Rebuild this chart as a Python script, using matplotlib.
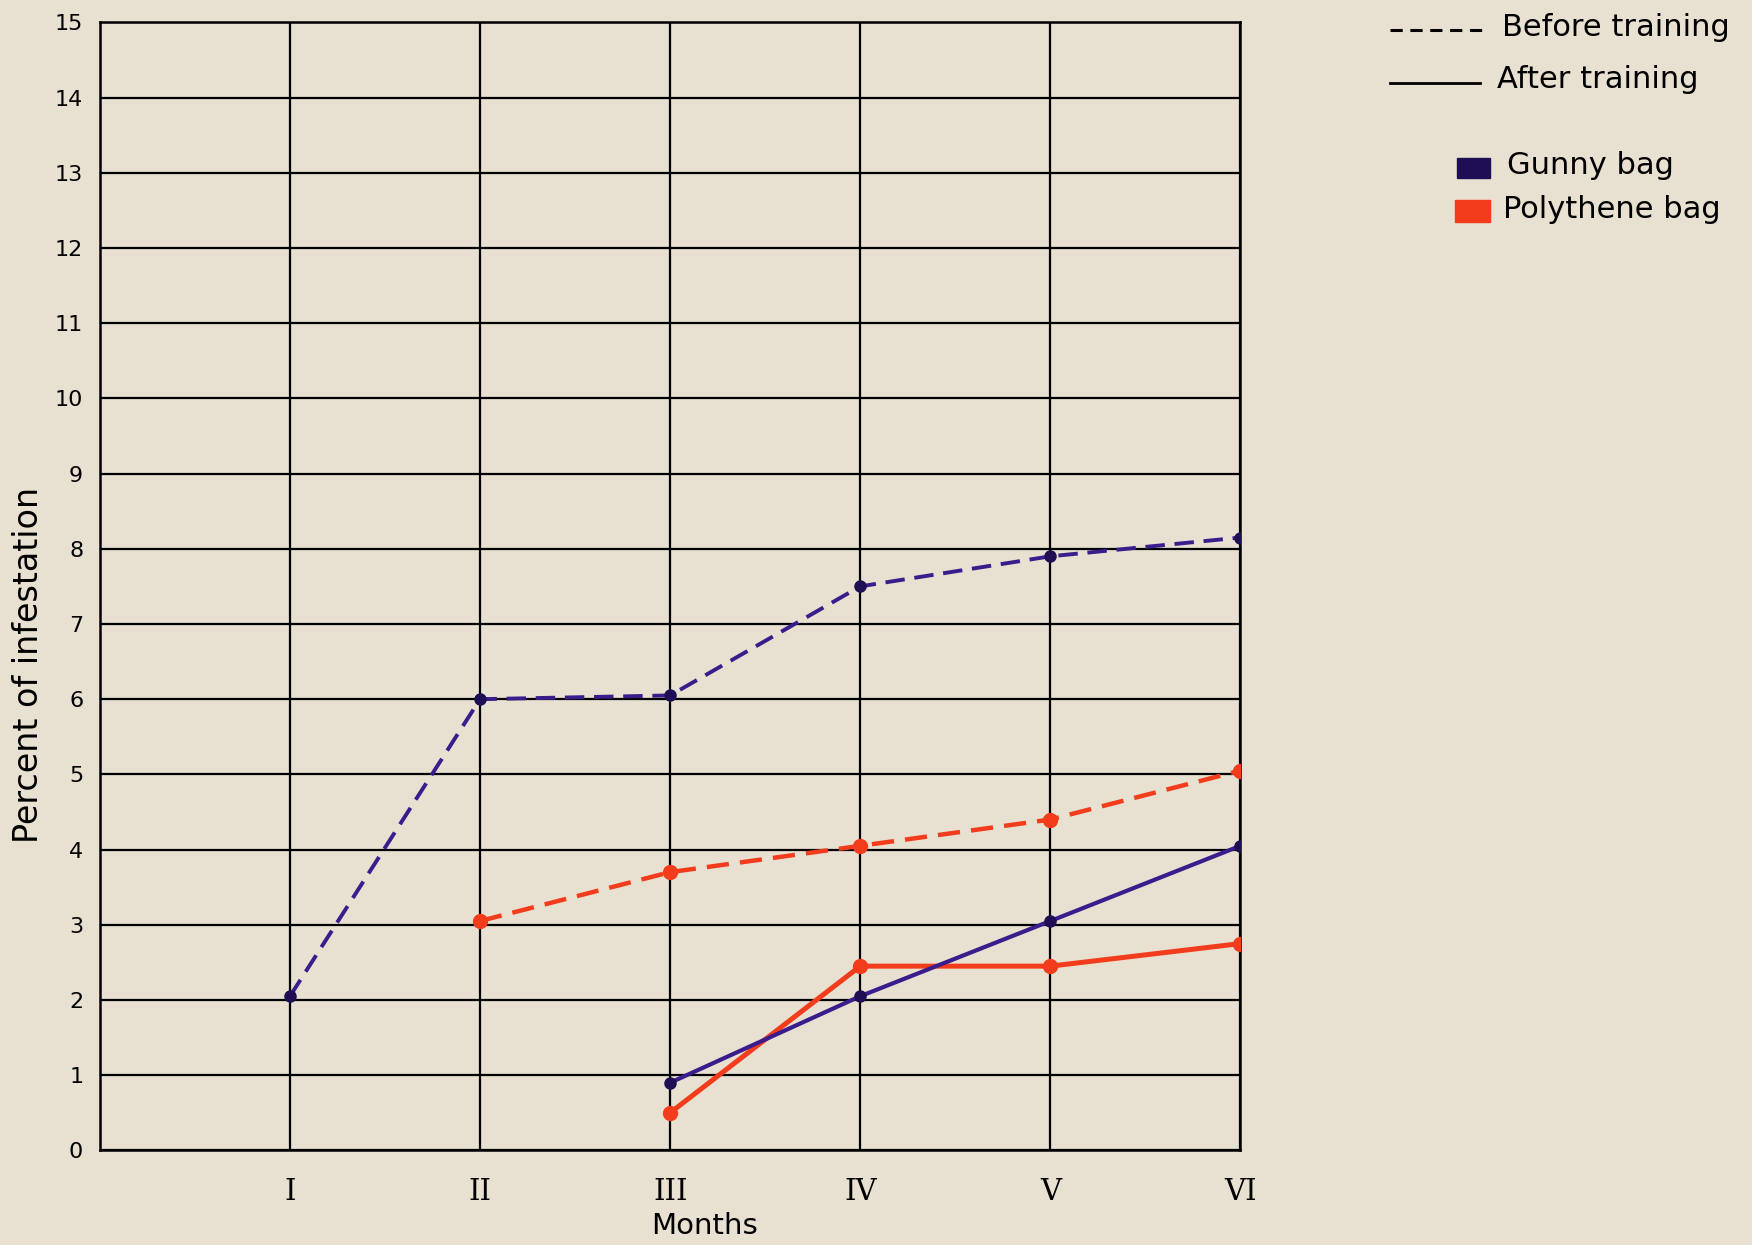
import matplotlib
matplotlib.use("Agg")
import matplotlib.pyplot as plt
from matplotlib.lines import Line2D
from matplotlib.patches import Rectangle

months = ["I", "II", "III", "IV", "V", "VI"]
month_pos = [1, 2, 3, 4, 5, 6]

gunny_before = [2.05, 6.0, 6.05, 7.5, 7.9, 8.15]          # months I-VI
poly_before = [3.05, 3.7, 4.05, 4.4, 5.05]                # months II-VI
gunny_after = [0.9, 2.05, 3.05, 4.05]                     # months III-VI
poly_after = [0.5, 2.45, 2.45, 2.75]                      # months III-VI

y_ticks = list(range(0, 16))

BG = "#E8E0D0"
PURPLE = "#3B1C8C"
PURPLE_DOT = "#1E0F55"
RED = "#F23C1C"

plt.rcParams['font.family'] = ['DejaVu Sans']

fig = plt.figure(figsize=(17.52, 12.45), dpi=100, facecolor=BG)
ax = fig.add_axes([0.057, 0.076, 0.651, 0.906])
ax.set_facecolor(BG)

ax.set_xlim(0, 6)
ax.set_ylim(0, 15)
ax.set_xticks(month_pos)
ax.set_xticklabels(months, fontsize=21, fontfamily='DejaVu Serif')
ax.set_yticks(y_ticks)
ax.set_yticklabels([str(v) for v in y_ticks], fontsize=16)
ax.tick_params(length=0, pad=12)
ax.tick_params(axis='x', pad=20)
ax.grid(True, color="black", linewidth=1.6)
ax.set_axisbelow(True)
for s in ax.spines.values():
    s.set_color("black")
    s.set_linewidth(1.8)

dash = (5, 2.5)
ax.plot(month_pos, gunny_before, color=PURPLE, lw=2.8, linestyle=(0, dash),
        marker='o', ms=8, mfc=PURPLE_DOT, mec=PURPLE_DOT, zorder=3)
ax.plot(month_pos[1:], poly_before, color=RED, lw=3.2, linestyle=(0, dash),
        marker='o', ms=10, mfc=RED, mec=RED, zorder=3)
ax.plot(month_pos[2:], gunny_after, color=PURPLE, lw=3.0,
        marker='o', ms=8, mfc=PURPLE_DOT, mec=PURPLE_DOT, zorder=4)
ax.plot(month_pos[2:], poly_after, color=RED, lw=3.6,
        marker='o', ms=10, mfc=RED, mec=RED, zorder=3)

ax.set_xlabel("Months", fontsize=21)
ax.xaxis.set_label_coords(0.53, -0.055)
ax.set_ylabel("Percent of infestation", fontsize=24)
ax.yaxis.set_label_coords(-0.048, 0.43)

# legend (drawn in figure coordinates)
W, H = 1752.0, 1245.0
def fx(px): return px / W
def fy(py): return 1 - py / H

fig.add_artist(Line2D([fx(1390), fx(1488)], [fy(30), fy(30)], color="black",
                      lw=2.2, linestyle=(0, (4, 2.5)), transform=fig.transFigure))
fig.text(fx(1502), fy(28), "Before training", fontsize=22, va='center', ha='left')
fig.add_artist(Line2D([fx(1390), fx(1480)], [fy(83), fy(83)], color="black",
                      lw=2.0, transform=fig.transFigure))
fig.text(fx(1497), fy(80), "After training", fontsize=22, va='center', ha='left')

fig.add_artist(Rectangle((fx(1457), fy(178)), fx(1490) - fx(1457), fy(158) - fy(178),
                         color=PURPLE_DOT, transform=fig.transFigure))
fig.text(fx(1507), fy(166), "Gunny bag", fontsize=22, va='center', ha='left')
fig.add_artist(Rectangle((fx(1455), fy(222)), fx(1490) - fx(1455), fy(200) - fy(222),
                         color=RED, transform=fig.transFigure))
fig.text(fx(1503), fy(210), "Polythene bag", fontsize=22, va='center', ha='left')

fig.savefig("out.png", dpi=100, facecolor=BG)
